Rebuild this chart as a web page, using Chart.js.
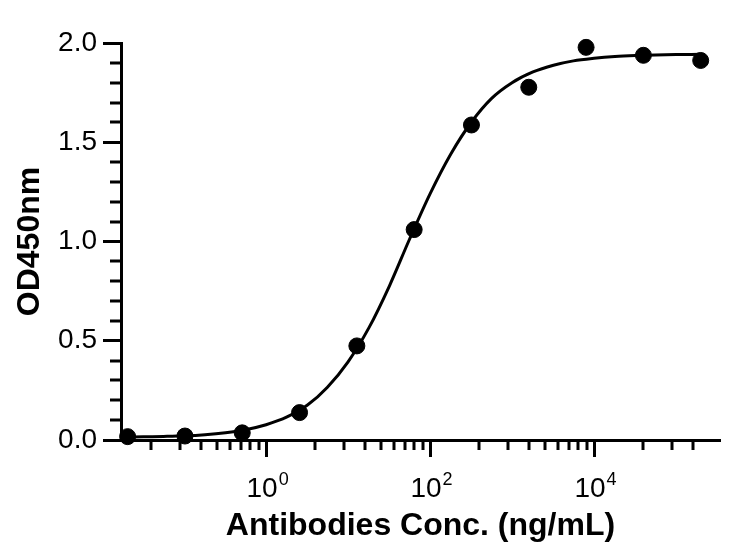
<html><head>
<meta charset="UTF-8">
<title>Antibody ELISA curve</title>
<script src="https://cdn.jsdelivr.net/npm/chart.js"></script>
<style>
* { margin: 0; padding: 0; box-sizing: border-box; }
body { background: white; }
.wrap { width: 742px; height: 554px; position: relative; }
</style>
</head>
<body>
<div class="wrap"><canvas id="curveChart"></canvas></div>

<script>
// measured points (5-fold dilution series, ng/mL)
const conc = [0.02048, 0.1024, 0.512, 2.56, 12.8, 64, 320, 1600, 8000, 40000, 200000];
const od450 = [0.017, 0.020, 0.036, 0.138, 0.474, 1.06, 1.587, 1.777, 1.978, 1.938, 1.912];

// fitted curve
const curveX = [0.02, 0.032, 0.056, 0.1, 0.18, 0.32, 0.56, 1, 1.8, 3.2, 5.6, 10, 18, 32, 56,
  100, 180, 320, 560, 1000, 1800, 3200, 5600, 10000, 18000, 32000, 56000, 100000, 200000];
const curveY = [0.014, 0.016, 0.018, 0.021, 0.027, 0.037, 0.052, 0.077, 0.116, 0.176, 0.266,
  0.394, 0.566, 0.777, 1.010, 1.240, 1.442, 1.602, 1.720, 1.800, 1.854, 1.888, 1.910, 1.923,
  1.932, 1.937, 1.940, 1.942, 1.943];

// axis ticks
const xMajorTicks = [1, 100, 10000];
const xMajorExp = ['0', '2', '4'];
const xMinorTicks = [0.04, 0.09, 0.16, 0.25, 0.36, 0.49, 0.64, 0.81,
  4, 9, 16, 25, 36, 49, 64, 81,
  400, 900, 1600, 2500, 3600, 4900, 6400, 8100,
  40000, 90000, 160000];
const yMajorTicks = [0, 0.5, 1.0, 1.5, 2.0];
const yMinorTicks = [0.1, 0.2, 0.3, 0.4, 0.6, 0.7, 0.8, 0.9, 1.1, 1.2, 1.3, 1.4, 1.6, 1.7, 1.8, 1.9];

const FONT = "'Liberation Sans', Arial, sans-serif";

// minor ticks are shorter than major ones, chart.js has one length per axis
const minorTicks = {
  id: 'minorTicks',
  afterDraw(chart) {
    const ctx = chart.ctx;
    const x = chart.scales.x, y = chart.scales.y;
    const area = chart.chartArea;
    ctx.save();
    ctx.strokeStyle = '#000';
    ctx.lineWidth = 3;
    ctx.beginPath();
    xMinorTicks.forEach(v => {
      const px = Math.round(x.getPixelForValue(v));
      ctx.moveTo(px, area.bottom);
      ctx.lineTo(px, area.bottom + 10);
    });
    yMinorTicks.forEach(v => {
      const py = Math.round(y.getPixelForValue(v));
      ctx.moveTo(area.left, py);
      ctx.lineTo(area.left - 11, py);
    });
    ctx.stroke();

    // 10^n labels with a real superscript
    ctx.fillStyle = '#000';
    ctx.textBaseline = 'alphabetic';
    ctx.textAlign = 'left';
    const base = area.bottom + 57;
    xMajorTicks.forEach((v, i) => {
      const px = x.getPixelForValue(v);
      ctx.font = '28px ' + FONT;
      const w1 = ctx.measureText('10').width;
      ctx.font = '18px ' + FONT;
      const w2 = ctx.measureText(xMajorExp[i]).width;
      const left = px - (w1 + w2) / 2 + 1;
      ctx.font = '28px ' + FONT;
      ctx.fillText('10', left, base);
      ctx.font = '18px ' + FONT;
      ctx.fillText(xMajorExp[i], left + w1 + 1, base - 12);
    });
    ctx.restore();
  }
};

new Chart(document.getElementById('curveChart'), {
  type: 'scatter',
  data: {
    datasets: [{
      label: 'OD450',
      data: conc.map((c, i) => ({ x: c, y: od450[i] })),
      backgroundColor: '#000',
      borderColor: '#000',
      pointRadius: 8,
      pointHoverRadius: 8,
      showLine: false,
      clip: false
    }, {
      label: 'fit',
      data: curveX.map((c, i) => ({ x: c, y: curveY[i] })),
      borderColor: '#000',
      borderWidth: 3,
      pointRadius: 0,
      showLine: true,
      cubicInterpolationMode: 'monotone',
      fill: false
    }]
  },
  options: {
    responsive: true,
    maintainAspectRatio: false,
    animation: false,
    layout: { padding: { left: 0, right: 22, top: 43, bottom: 0 } },
    plugins: {
      legend: { display: false },
      tooltip: { enabled: false }
    },
    scales: {
      x: {
        type: 'logarithmic',
        min: 0.017,
        max: 344000,
        border: { display: true, color: '#000', width: 3 },
        grid: { drawOnChartArea: false, drawTicks: true, tickLength: 17, tickWidth: 3, tickColor: '#000' },
        afterBuildTicks: s => { s.ticks = xMajorTicks.map(v => ({ value: v })); },
        afterFit: s => { s.height = 114; },
        ticks: {
          autoSkip: false,
          maxRotation: 0,
          callback: () => ''
        },
        title: {
          display: true,
          text: 'Antibodies Conc. (ng/mL)',
          color: '#000',
          font: { family: FONT, size: 32, weight: 'bold' },
          padding: { top: 0, bottom: 9 }
        }
      },
      y: {
        min: 0,
        max: 2.0,
        border: { display: true, color: '#000', width: 3 },
        grid: { drawOnChartArea: false, drawTicks: true, tickLength: 18, tickWidth: 3, tickColor: '#000' },
        afterBuildTicks: s => { s.ticks = yMajorTicks.map(v => ({ value: v })); },
        afterFit: s => { s.width = 121; },
        ticks: {
          padding: 6,
          color: '#000',
          font: { family: FONT, size: 28 },
          callback: v => v.toFixed(1)
        },
        title: {
          display: true,
          text: 'OD450nm',
          color: '#000',
          font: { family: FONT, size: 32, weight: 'bold' },
          padding: { top: 11, bottom: 0 }
        }
      }
    }
  },
  plugins: [minorTicks]
});
</script>
</body></html>
